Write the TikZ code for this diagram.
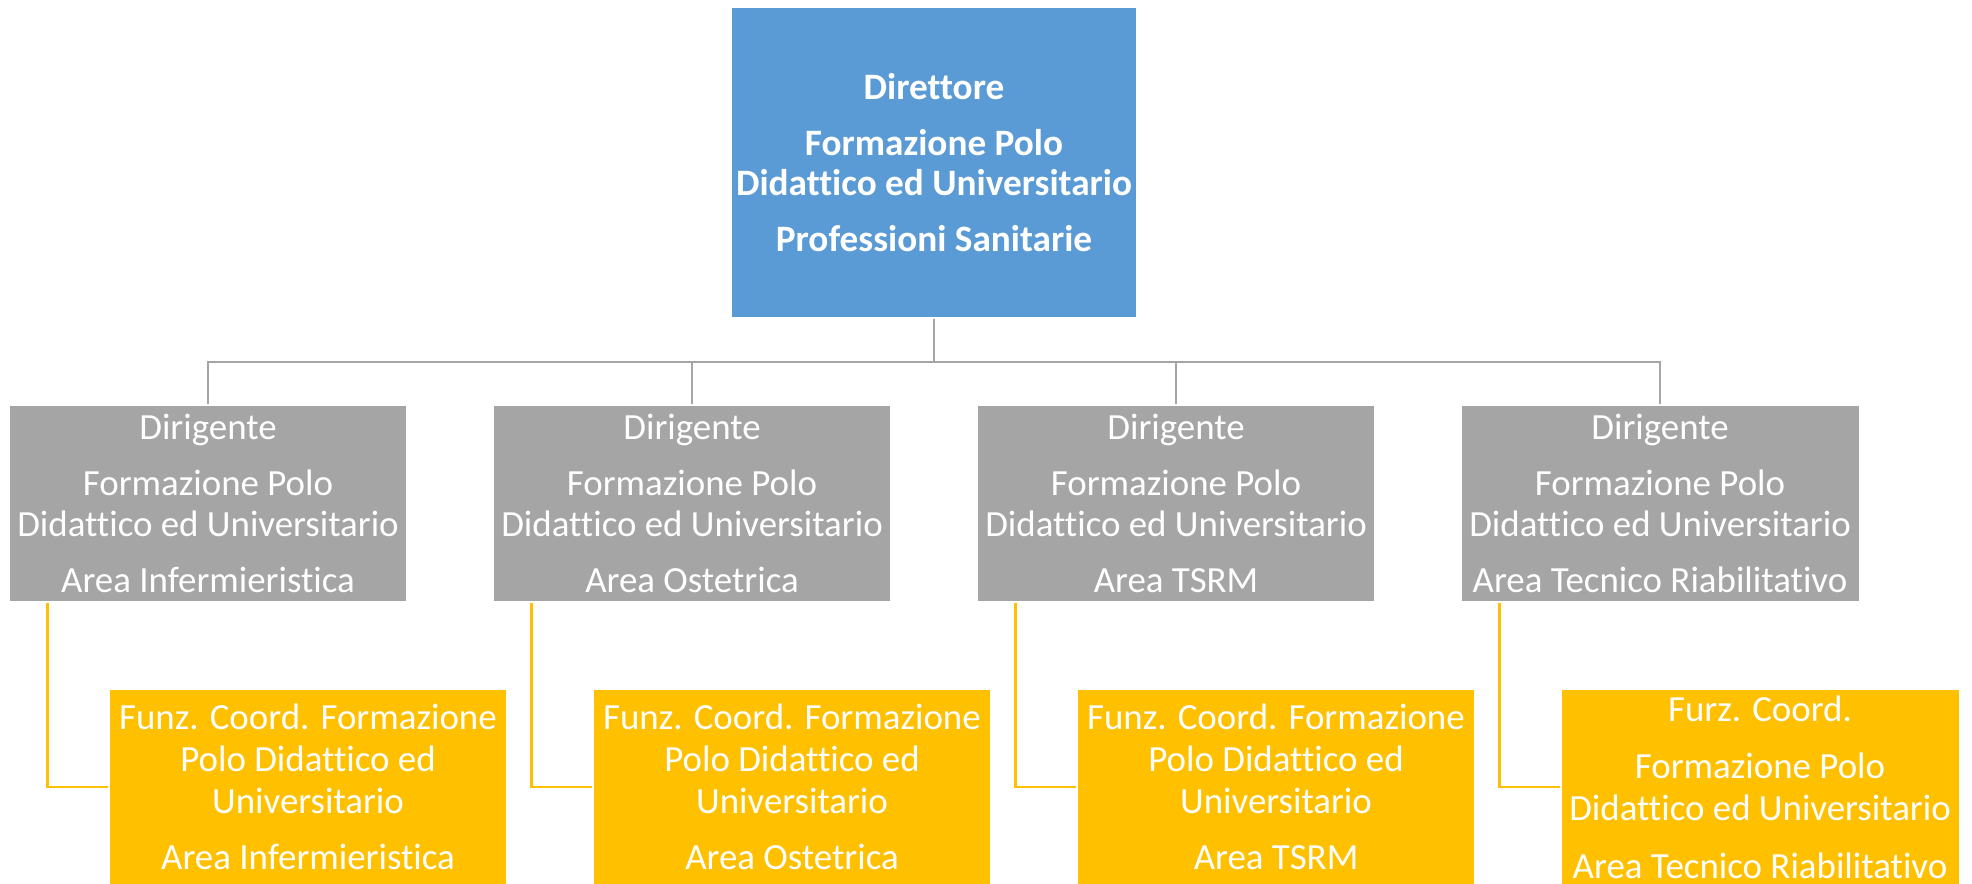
\documentclass[tikz,border=0pt]{standalone}
\usepackage{fontspec}
\setmainfont{Carlito}[Ligatures=NoCommon]

\definecolor{dirblue}{HTML}{5B9BD5}
\definecolor{dirgray}{HTML}{A5A5A5}
\definecolor{dirgold}{HTML}{FFC000}

\tikzset{
  boxbase/.style={rectangle, draw=white, line width=0.3pt, text=white, align=center,
    inner sep=0pt, minimum width=3.98cm, minimum height=1.97cm,
    font=\fontsize{10.5}{11.9}\selectfont},
  topbox/.style={boxbase, fill=dirblue, minimum width=4.06cm, minimum height=3.11cm,
    font=\fontsize{10.6}{11.4}\selectfont\bfseries},
  graybox/.style={boxbase, fill=dirgray},
  goldbox/.style={boxbase, fill=dirgold, minimum height=1.96cm},
  grayline/.style={draw=dirgray, line width=0.8pt},
  goldline/.style={draw=dirgold, line width=0.6pt},
}

\begin{document}
\begin{tikzpicture}
\useasboundingbox (0,0) rectangle (19.72,8.83);

\node (dir) at (9.34,7.205) [topbox] {Direttore\\[4.5pt] Formazione Polo\\ Didattico ed Universitario\\[4.5pt] Professioni Sanitarie};

\node (g1) at (2.08,3.795) [graybox] {Dirigente\\[4pt] Formazione Polo\\ Didattico ed Universitario\\[4pt] Area Infermieristica};
\node (g2) at (6.92,3.795) [graybox] {Dirigente\\[4pt] Formazione Polo\\ Didattico ed Universitario\\[4pt] Area Ostetrica};
\node (g3) at (11.76,3.795) [graybox] {Dirigente\\[4pt] Formazione Polo\\ Didattico ed Universitario\\[4pt] Area TSRM};
\node (g4) at (16.60,3.795) [graybox] {Dirigente\\[4pt] Formazione Polo\\ Didattico ed Universitario\\[4pt] Area Tecnico Riabilitativo};

\node (f1) at (3.08,0.96) [goldbox] {Funz. Coord. Formazione\\ Polo Didattico ed\\ Universitario\\[4pt] Area Infermieristica};
\node (f2) at (7.92,0.96) [goldbox] {Funz. Coord. Formazione\\ Polo Didattico ed\\ Universitario\\[4pt] Area Ostetrica};
\node (f3) at (12.76,0.96) [goldbox] {Funz. Coord. Formazione\\ Polo Didattico ed\\ Universitario\\[4pt] Area TSRM};
\node (f4) at (17.60,0.96) [goldbox] {Furz. Coord.\\[4.5pt] Formazione Polo\\ Didattico ed Universitario\\[4.5pt] Area Tecnico Riabilitativo};

\coordinate (bus) at (9.34,5.21);

\draw [grayline] (dir.south) -- (bus);
\foreach \g in {g1,g2,g3,g4}
  \draw [grayline] (bus) -| (\g.north);

\foreach \g/\f in {g1/f1,g2/f2,g3/f3,g4/f4}
  \draw [goldline] ([xshift=3.9mm]\g.south west) |- (\f.west);

\end{tikzpicture}
\end{document}
